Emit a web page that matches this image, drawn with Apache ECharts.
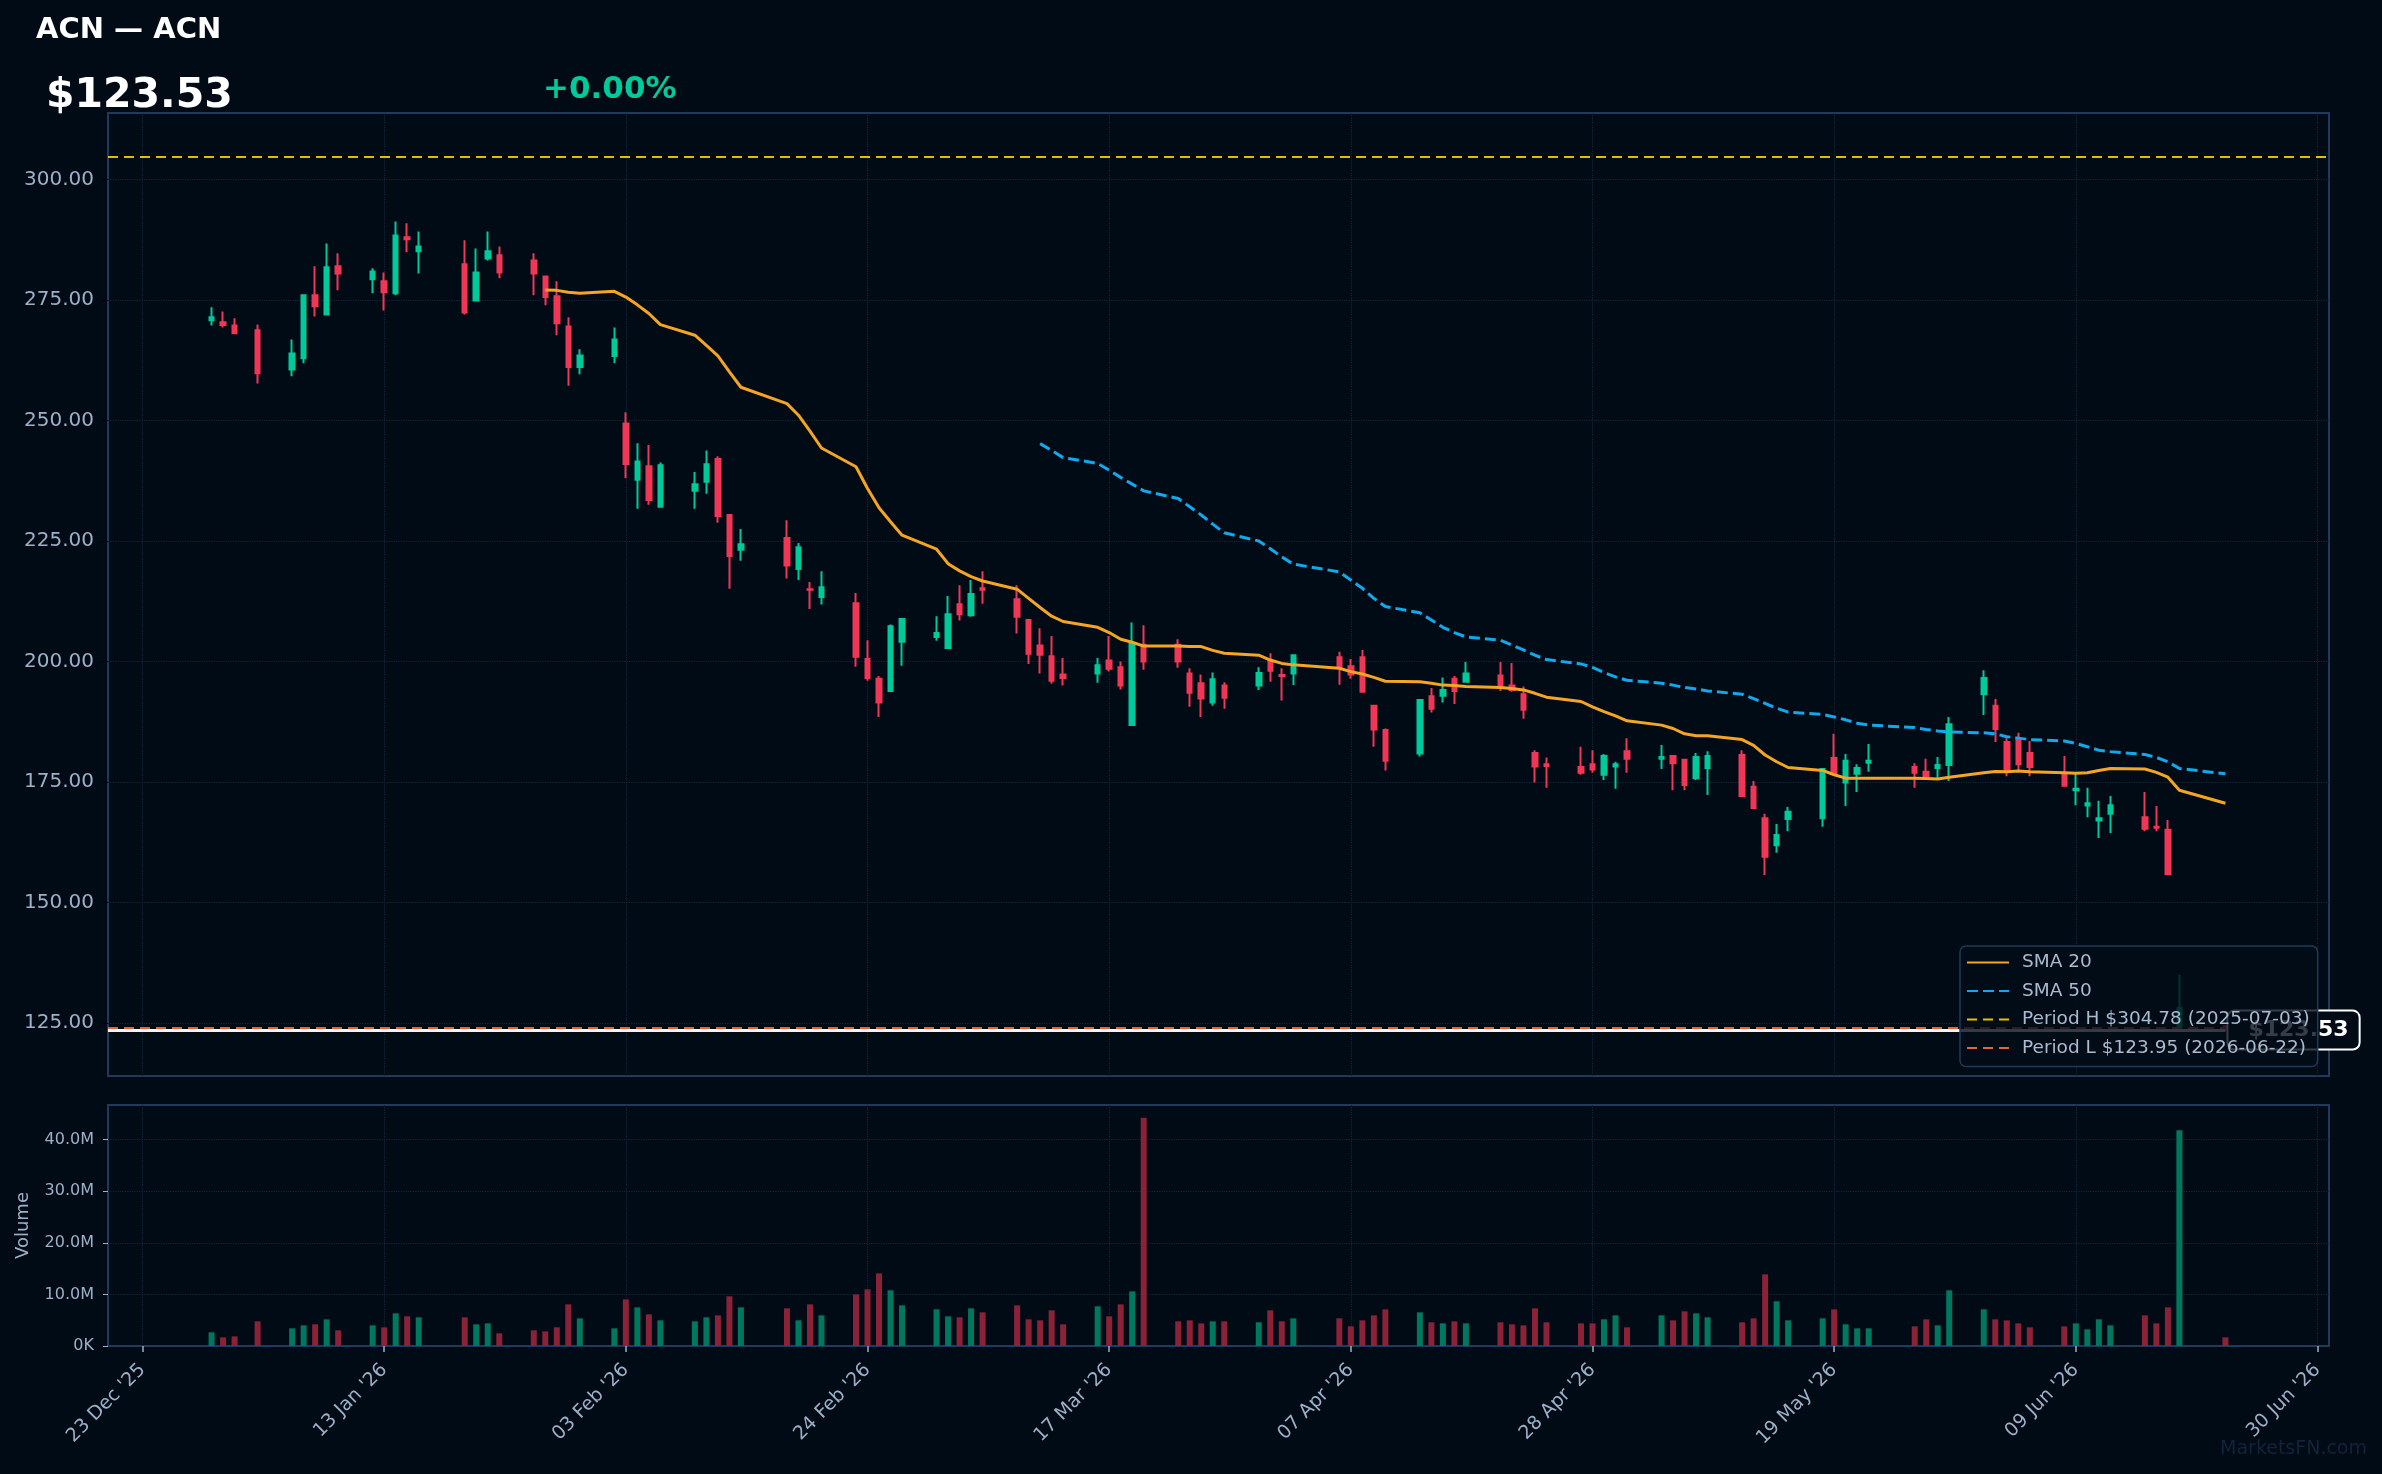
<!DOCTYPE html>
<html>
<head>
<meta charset="utf-8">
<title>ACN</title>
<script src="https://cdn.jsdelivr.net/npm/echarts@6/dist/echarts.min.js"></script>
<style>
  html, body { margin: 0; padding: 0; background: #010b16; }
  #chart { width: 2382px; height: 1474px; }
</style>
</head>
<body>
<div id="chart"></div>
<script>
// trading days shown on the chart
const dates = [
  '2025-12-29', '2025-12-30', '2025-12-31',
  '2026-01-02', '2026-01-05', '2026-01-06', '2026-01-07', '2026-01-08', '2026-01-09', '2026-01-12', '2026-01-13', '2026-01-14', '2026-01-15',
  '2026-01-16', '2026-01-20', '2026-01-21', '2026-01-22', '2026-01-23', '2026-01-26', '2026-01-27', '2026-01-28', '2026-01-29', '2026-01-30',
  '2026-02-02', '2026-02-03', '2026-02-04', '2026-02-05', '2026-02-06', '2026-02-09', '2026-02-10', '2026-02-11', '2026-02-12', '2026-02-13',
  '2026-02-17', '2026-02-18', '2026-02-19', '2026-02-20', '2026-02-23', '2026-02-24', '2026-02-25', '2026-02-26', '2026-02-27',
  '2026-03-02', '2026-03-03', '2026-03-04', '2026-03-05', '2026-03-06', '2026-03-09', '2026-03-10', '2026-03-11', '2026-03-12', '2026-03-13',
  '2026-03-16', '2026-03-17', '2026-03-18', '2026-03-19', '2026-03-20', '2026-03-23', '2026-03-24', '2026-03-25', '2026-03-26', '2026-03-27',
  '2026-03-30', '2026-03-31',
  '2026-04-01', '2026-04-02', '2026-04-06', '2026-04-07', '2026-04-08', '2026-04-09', '2026-04-10', '2026-04-13', '2026-04-14', '2026-04-15',
  '2026-04-16', '2026-04-17', '2026-04-20', '2026-04-21', '2026-04-22', '2026-04-23', '2026-04-24', '2026-04-27', '2026-04-28', '2026-04-29', '2026-04-30',
  '2026-05-01', '2026-05-04', '2026-05-05', '2026-05-06', '2026-05-07', '2026-05-08', '2026-05-11', '2026-05-12', '2026-05-13', '2026-05-14',
  '2026-05-15', '2026-05-18', '2026-05-19', '2026-05-20', '2026-05-21', '2026-05-22', '2026-05-26', '2026-05-27', '2026-05-28', '2026-05-29',
  '2026-06-01', '2026-06-02', '2026-06-03', '2026-06-04', '2026-06-05', '2026-06-08', '2026-06-09', '2026-06-10', '2026-06-11', '2026-06-12',
  '2026-06-15', '2026-06-16', '2026-06-17', '2026-06-18', '2026-06-22'
];

const opens = [
  270.8, 270.4, 269.7,
  268.7, 260.6, 262.9, 276.0, 272.0, 282.0, 279.3, 278.9, 276.4, 288.0, 285.1, 282.4, 274.9, 283.6, 284.3, 283.2, 279.9, 275.8, 269.5, 261.1,
  263.4, 249.4, 237.7, 240.5, 232.1, 235.4, 237.3, 242.0, 230.4, 223.2, 225.6, 219.2, 215.0, 213.4, 212.1, 200.5, 196.4, 193.9, 204.1,
  205.1, 202.8, 211.9, 209.6, 215.2, 212.9, 208.6, 203.3, 201.1, 197.3, 197.5, 200.2, 198.8, 186.8, 203.5, 203.5, 197.5, 195.5, 191.5, 195.0, 195.0, 200.1,
  197.2, 197.5, 200.9, 199.0, 200.9, 190.8, 185.8, 180.9, 192.8, 192.9, 196.4, 195.8, 197.1, 195.0, 193.2, 181.0, 178.7, 178.1, 178.7, 176.5, 178.2,
  181.4, 179.8, 180.4, 179.6, 175.8, 177.9, 180.6, 174.0, 167.5, 161.9, 167.3, 167.5, 180.0, 174.9, 176.7, 179.0, 178.1, 177.1, 177.9, 178.5,
  193.2, 190.8, 183.3, 183.7, 181.0, 176.7, 173.3, 170.1, 167.0, 168.4, 167.7, 165.7, 165.1, 124.2, 124.3
];

const highs = [
  273.5, 272.6, 271.2,
  269.9, 266.8, 276.2, 282.0, 286.7, 284.7, 281.6, 280.7, 291.3, 290.9, 289.2, 287.4, 285.7, 289.2, 286.1, 284.7, 280.1, 278.9, 271.4, 264.8,
  269.3, 251.7, 245.3, 244.9, 241.3, 239.3, 243.8, 242.6, 230.6, 227.5, 229.3, 224.6, 216.5, 218.7, 214.2, 204.4, 197.0, 207.7, 208.9,
  209.4, 213.6, 215.8, 216.9, 218.7, 215.8, 208.8, 206.9, 205.3, 200.7, 200.7, 205.3, 200.0, 208.1, 207.5, 204.6, 198.6, 197.3, 197.7, 195.7, 198.8, 201.7,
  198.6, 201.5, 202.0, 200.5, 202.4, 191.0, 186.1, 192.1, 194.5, 196.7, 197.0, 199.9, 199.9, 199.7, 194.8, 181.6, 180.1, 182.3, 181.6, 180.8, 179.2,
  184.1, 182.7, 180.6, 179.8, 181.0, 181.4, 181.6, 175.2, 168.4, 166.3, 169.8, 177.9, 185.0, 180.8, 178.7, 182.9, 178.9, 179.8, 180.2, 188.5,
  198.2, 192.2, 184.1, 185.2, 183.5, 180.4, 176.7, 173.8, 171.1, 172.1, 172.9, 170.0, 167.1, 135.0, 124.6
];

const lows = [
  269.7, 269.3, 268.1,
  257.7, 259.2, 261.9, 271.6, 271.8, 277.0, 276.4, 272.8, 276.0, 284.9, 280.5, 272.0, 274.7, 283.2, 279.5, 276.0, 273.9, 267.7, 257.2, 259.6,
  261.9, 238.0, 231.7, 232.5, 231.9, 231.7, 234.8, 228.8, 215.1, 220.9, 217.2, 216.9, 210.9, 211.8, 198.9, 196.0, 188.5, 193.9, 199.1,
  204.3, 202.8, 208.5, 209.3, 212.0, 205.8, 199.5, 197.5, 195.4, 195.0, 195.6, 197.9, 194.2, 186.8, 198.3, 198.7, 190.6, 188.5, 190.8, 190.2, 194.1, 195.8,
  191.9, 195.1, 195.2, 196.4, 193.5, 182.3, 177.4, 180.3, 189.4, 191.5, 191.2, 195.8, 193.9, 193.7, 188.1, 174.9, 173.8, 176.5, 176.9, 175.4, 173.6,
  176.9, 177.7, 173.3, 173.3, 175.4, 172.3, 172.1, 169.6, 155.7, 160.3, 164.8, 165.7, 176.7, 170.0, 172.9, 177.1, 173.8, 176.0, 175.8, 175.2,
  188.9, 183.3, 176.2, 177.5, 176.2, 174.2, 170.2, 167.7, 163.4, 164.4, 164.8, 164.8, 155.7, 123.9, 123.5
];

const closes = [
  271.4, 269.8, 268.1,
  259.8, 263.9, 276.0, 273.7, 281.8, 280.5, 280.9, 276.6, 288.4, 287.6, 286.1, 272.4, 280.7, 285.1, 280.7, 280.5, 275.6, 270.2, 261.1, 263.5,
  266.8, 241.0, 241.5, 233.5, 240.7, 236.8, 240.9, 230.2, 221.9, 224.3, 219.9, 223.7, 214.9, 215.4, 201.0, 196.6, 191.5, 207.3, 208.8,
  205.9, 209.8, 209.8, 214.0, 214.9, 209.3, 201.6, 201.4, 196.0, 196.6, 199.2, 198.5, 195.0, 203.7, 200.0, 200.0, 193.5, 192.3, 196.3, 192.5, 197.6, 198.1,
  197.0, 201.3, 198.8, 197.3, 193.7, 185.9, 179.4, 192.0, 190.2, 194.1, 193.9, 197.5, 195.0, 194.1, 190.0, 178.2, 178.3, 176.9, 177.6, 180.4, 178.7,
  179.8, 180.2, 178.9, 174.4, 180.2, 180.4, 172.1, 169.6, 159.5, 164.0, 168.8, 177.7, 176.7, 179.4, 177.9, 179.4, 176.9, 176.2, 178.5, 187.0,
  196.6, 186.0, 177.5, 178.7, 178.1, 174.2, 173.6, 170.6, 167.5, 170.2, 165.3, 165.5, 155.9, 128.1, 123.53
];

// volume in millions of shares
const volumes = [
  2.65, 1.68, 1.87,
  4.78, 3.42, 4.0, 4.2, 5.17, 3.04, 4.0, 3.62, 6.33, 5.75, 5.56, 5.56, 4.2, 4.39, 2.45, 3.04, 2.84, 3.62, 8.07, 5.36,
  3.42, 9.04, 7.49, 6.14, 4.97, 4.78, 5.56, 5.94, 9.63, 7.49, 7.3, 4.97, 8.07, 5.94, 10.0, 10.98, 14.08, 10.79, 7.88,
  7.1, 5.75, 5.56, 7.3, 6.52, 7.88, 5.17, 4.97, 6.91, 4.2, 7.69, 5.75, 8.07, 10.59, 44.25, 4.78, 4.97, 4.39, 4.78, 4.78, 4.59, 6.91,
  4.78, 5.36, 5.36, 3.81, 4.97, 5.94, 7.1, 6.52, 4.59, 4.39, 4.78, 4.39, 4.59, 4.2, 4.0, 7.3, 4.59, 4.39, 4.39, 5.17, 5.94,
  3.62, 5.94, 4.97, 6.72, 6.33, 5.56, 4.59, 5.36, 13.89, 8.66, 4.97, 5.36, 7.1, 4.2, 3.42, 3.42, 3.81, 5.17, 4.0, 10.79,
  7.1, 5.17, 4.97, 4.39, 3.62, 3.81, 4.39, 3.23, 5.17, 4.0, 5.94, 4.39, 7.49, 41.8, 1.68
];

// moving averages as drawn, starting on their first plotted day
const sma20Start = '2026-01-27';
const sma20 = [
  277.1, 277.0, 276.6, 276.4,
  276.8, 275.6, 274.0, 272.2, 269.9, 267.7, 265.6, 263.4, 260.1, 256.9, 253.5, 251.1, 247.8, 244.3, 240.4, 235.9, 231.9, 229.0, 226.2,
  223.3, 220.3, 218.8, 217.6, 216.7, 215.0, 213.1, 211.2, 209.4, 208.3, 207.1, 206.0, 204.6, 204.0, 203.2, 203.2, 203.1, 203.1, 202.3, 201.7, 201.3, 200.3,
  199.6, 199.3, 198.6, 197.9, 197.4, 196.7, 195.9, 195.8, 195.5, 195.1, 195.0, 194.8, 194.6, 194.4, 194.1, 193.4, 192.6, 191.7, 190.6, 189.6, 188.7,
  187.7, 186.8, 186.1, 185.0, 184.6, 184.6, 183.8, 182.6, 180.6, 179.2, 178.0, 177.4, 176.5, 175.8, 175.8, 175.8, 175.8, 175.7, 175.6, 176.0,
  176.9, 177.2, 177.1, 177.3, 177.1, 176.9, 176.8, 176.9, 177.4, 177.8, 177.7, 177.0, 176.0, 173.3, 170.6
];
const sma50Start = '2026-03-11';
const sma50 = [
  245.2, 243.8, 242.3, 241.1, 239.7, 238.2, 236.8, 235.4, 233.8, 232.1, 230.4, 228.5, 226.7, 225.0, 223.4,
  221.7, 220.2, 218.6, 216.9, 215.2, 213.1, 211.4, 210.1, 208.6, 207.1, 206.0, 205.1, 204.4, 203.4, 202.4, 201.3, 200.4, 199.5, 198.8, 197.7, 196.8,
  196.1, 195.5, 195.1, 194.6, 194.3, 193.9, 193.2, 192.3, 191.3, 190.3, 189.5, 189.0, 188.5, 187.9, 187.2, 186.8, 186.3, 185.9, 185.6, 185.4,
  185.2, 185.0, 184.4, 184.1, 183.8, 183.5, 183.0, 182.3, 181.6, 181.3, 180.7, 180.1, 179.2, 177.8, 176.7
];

const xTickDates = ['2025-12-23', '2026-01-13', '2026-02-03', '2026-02-24', '2026-03-17',
  '2026-04-07', '2026-04-28', '2026-05-19', '2026-06-09', '2026-06-30'];
const priceTicks = [125, 150, 175, 200, 225, 250, 275, 300];
const volumeTicks = [0, 10, 20, 30, 40];

const periodHigh = 304.78;
const periodHighDate = '2025-07-03';
const periodLow = 123.95;
const periodLowDate = '2026-06-22';
const lastPrice = 123.53;
const changePct = '+0.00%';

const UP = '#00c99a';
const DOWN = '#f03755';
const VOL_UP = '#00785f';
const VOL_DOWN = '#8c2237';
const AXIS_TEXT = '#9db0c7';
const GRID_LINE = '#16263a';
const FRAME = '#1f3a5c';

const MONTHS = ['Jan', 'Feb', 'Mar', 'Apr', 'May', 'Jun', 'Jul', 'Aug', 'Sep', 'Oct', 'Nov', 'Dec'];
const toTs = s => {
  const [y, m, d] = s.split('-').map(Number);
  return new Date(y, m - 1, d).getTime();
};
const fmtDate = v => {
  const d = new Date(v);
  return String(d.getDate()).padStart(2, '0') + ' ' + MONTHS[d.getMonth()] + " '" + String(d.getFullYear()).slice(2);
};

const xMin = toTs('2025-12-20');
const xMax = toTs('2026-07-01');
const xTicks = xTickDates.map(toTs);

const i20 = dates.indexOf(sma20Start);
const i50 = dates.indexOf(sma50Start);
const candleData = dates.map((d, i) => [toTs(d), opens[i], closes[i], lows[i], highs[i]]);
const volumeData = dates.map((d, i) => ({
  value: [toTs(d), volumes[i]],
  itemStyle: { color: closes[i] >= opens[i] ? VOL_UP : VOL_DOWN }
}));
const sma20Data = sma20.map((v, k) => [toTs(dates[i20 + k]), v]);
const sma50Data = sma50.map((v, k) => [toTs(dates[i50 + k]), v]);

const highName = 'Period H $' + periodHigh.toFixed(2) + ' (' + periodHighDate + ')';
const lowName = 'Period L $' + periodLow.toFixed(2) + ' (' + periodLowDate + ')';

const chart = echarts.init(document.getElementById('chart'));

const dateAxis = (gridIndex, withLabels) => ({
  type: 'value', gridIndex, min: xMin, max: xMax, scale: true,
  axisLine: withLabels ? { show: true, onZero: false, lineStyle: { color: FRAME, width: 2 } } : { show: false },
  axisTick: withLabels ? { show: true, customValues: xTicks, length: 6, lineStyle: { color: AXIS_TEXT, width: 1.5 } } : { show: false },
  axisLabel: withLabels
    ? { customValues: xTicks, rotate: 45, margin: 21, color: AXIS_TEXT, fontSize: 19, formatter: fmtDate }
    : { show: false },
  splitLine: { show: false }
});

// dotted grid lines placed through the axes' own scales
const gridLines = (gridIndex, yValues) => ({
  name: 'grid' + gridIndex, type: 'line', xAxisIndex: gridIndex, yAxisIndex: gridIndex,
  data: [], symbol: 'none', z: 1,
  markLine: {
    silent: true, symbol: ['none', 'none'], label: { show: false }, z: 1,
    lineStyle: { color: GRID_LINE, type: 'dotted', width: 1.2 },
    data: xTicks.map(t => ({ xAxis: t })).concat(yValues.map(v => ({ yAxis: v })))
  }
});

const option = {
  backgroundColor: '#010b16',
  animation: false,
  textStyle: { fontFamily: 'DejaVu Sans' },
  graphic: [
    { type: 'text', x: 36, y: 30, style: { text: 'ACN — ACN', fill: '#ffffff', font: 'bold 29px "DejaVu Sans"', verticalAlign: 'middle' } },
    { type: 'text', x: 46, y: 96, style: { text: '$' + lastPrice.toFixed(2), fill: '#ffffff', font: 'bold 41px "DejaVu Sans"', verticalAlign: 'middle' } },
    { type: 'text', x: 543, y: 90, style: { text: changePct, fill: UP, font: 'bold 31px "DejaVu Sans"', verticalAlign: 'middle' } },
    { type: 'text', x: 2367, y: 1449, style: { text: 'MarketsFN.com', fill: '#13233a', font: '19px "DejaVu Sans"', align: 'right', verticalAlign: 'middle' } }
  ],
  legend: {
    data: ['SMA 20', 'SMA 50', highName, lowName],
    zlevel: 1,
    orient: 'vertical',
    left: 1960,
    top: 946,
    padding: [7, 8, 9, 6],
    itemWidth: 42,
    itemHeight: 14,
    itemGap: 9.5,
    itemStyle: { opacity: 0, color: 'rgba(0,0,0,0)', borderWidth: 0 },
    backgroundColor: 'rgba(3, 12, 24, 0.8)',
    borderColor: '#1f3a5a',
    borderWidth: 1.5,
    borderRadius: 6,
    textStyle: { color: '#a9bbcf', fontSize: 18.5, padding: [0, 0, 0, 8] }
  },
  grid: [
    { left: 108, top: 113, width: 2221, height: 963, show: true, borderColor: FRAME, borderWidth: 2 },
    { left: 108, top: 1105, width: 2221, height: 241, show: true, borderColor: FRAME, borderWidth: 2 }
  ],
  xAxis: [dateAxis(0, false), dateAxis(1, true)],
  yAxis: [
    {
      type: 'value', gridIndex: 0, min: 114.0, max: 313.8,
      axisLine: { show: false },
      axisTick: { show: true, customValues: priceTicks, length: 6, lineStyle: { color: '#000000' } },
      axisLabel: { customValues: priceTicks, margin: 14, color: AXIS_TEXT, fontSize: 20, formatter: v => v.toFixed(2) },
      splitLine: { show: false }
    },
    {
      type: 'value', gridIndex: 1, min: 0, max: 46.7,
      name: 'Volume', nameLocation: 'middle', nameGap: 76,
      nameTextStyle: { color: AXIS_TEXT, fontSize: 18 },
      axisLine: { show: false },
      axisTick: { show: true, customValues: volumeTicks, length: 5, lineStyle: { color: AXIS_TEXT } },
      axisLabel: { customValues: volumeTicks, margin: 14, color: AXIS_TEXT, fontSize: 16, formatter: v => (v === 0 ? '0K' : v.toFixed(1) + 'M') },
      splitLine: { show: false }
    }
  ],
  series: [
    gridLines(0, priceTicks),
    gridLines(1, volumeTicks.slice(1)),
    {
      name: 'ACN', type: 'candlestick', xAxisIndex: 0, yAxisIndex: 0,
      data: candleData,
      encode: { x: 0, y: [1, 2, 3, 4] },
      barWidth: 5,
      itemStyle: { color: UP, color0: DOWN, borderColor: UP, borderColor0: DOWN, borderWidth: 2 }
    },
    {
      name: 'SMA 20', type: 'line', xAxisIndex: 0, yAxisIndex: 0,
      data: sma20Data, symbol: 'none', showSymbol: false,
      lineStyle: { color: '#f5a524', width: 3 }, itemStyle: { color: '#f5a524' }
    },
    {
      name: 'SMA 50', type: 'line', xAxisIndex: 0, yAxisIndex: 0,
      data: sma50Data, symbol: 'none', showSymbol: false,
      lineStyle: { color: '#12a8ec', width: 3, type: [11, 5] }, itemStyle: { color: '#12a8ec' }
    },
    {
      name: highName, type: 'line', xAxisIndex: 0, yAxisIndex: 0, data: [], symbol: 'none',
      lineStyle: { color: '#e6c000', width: 2, type: [10, 6] }, itemStyle: { color: '#e6c000' },
      markLine: {
        silent: true, symbol: ['none', 'none'], label: { show: false },
        lineStyle: { color: '#e6c000', width: 2, type: [10, 6] },
        data: [{ yAxis: periodHigh }]
      }
    },
    {
      name: 'Last', type: 'line', xAxisIndex: 0, yAxisIndex: 0, data: [], symbol: 'none',
      markLine: {
        silent: true, symbol: ['none', 'none'],
        lineStyle: { color: '#f4f4f4', width: 3, type: 'solid' },
        label: {
          show: true, position: 'end', distance: 3,
          formatter: '$' + lastPrice.toFixed(2),
          color: '#ffffff', fontWeight: 'bold', fontSize: 22,
          backgroundColor: '#010b16', borderColor: '#ffffff', borderWidth: 2, borderRadius: 6,
          padding: [8, 10, 7, 20]
        },
        data: [[{ coord: [xMin, lastPrice] }, { coord: [toTs(dates[dates.length - 1]), lastPrice] }]]
      }
    },
    {
      name: lowName, type: 'line', xAxisIndex: 0, yAxisIndex: 0, data: [], symbol: 'none',
      lineStyle: { color: '#e2653c', width: 2, type: [10, 6] }, itemStyle: { color: '#e2653c' },
      markLine: {
        silent: true, symbol: ['none', 'none'], label: { show: false },
        lineStyle: { color: '#e2653c', width: 2, type: [10, 6] },
        data: [{ yAxis: periodLow }]
      }
    },
    {
      name: 'Volume', type: 'bar', xAxisIndex: 1, yAxisIndex: 1,
      data: volumeData, barWidth: 6
    }
  ]
};

chart.setOption(option);
</script>
</body>
</html>
